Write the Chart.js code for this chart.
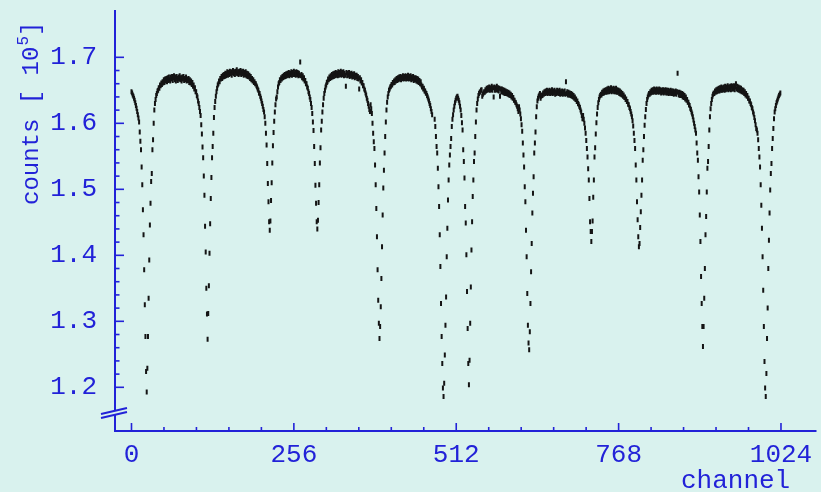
<!DOCTYPE html>
<html><head><meta charset="utf-8">
<script src="https://cdn.jsdelivr.net/npm/chart.js@4/dist/chart.umd.min.js"></script>
<style>html,body{margin:0;padding:0;background:#d9f2ee;}#wrap{width:821px;height:492px;}</style>
</head><body><div id="wrap"><canvas id="c" width="821" height="492"></canvas></div>
<script>
// Mossbauer spectrum, counts in units of 1e5, one value per channel
const xTickLabels = [0, 256, 512, 768, 1024];
const yTickLabels = [1.2, 1.3, 1.4, 1.5, 1.6, 1.7];
const xLabel = 'channel';
const yLabel = 'counts [ 10';
const yLabelExp = '5';

const dip1 = [1.648,1.646,1.643,1.641,1.638,1.635,1.631,1.627,1.623,1.618,1.613,1.608,1.602,1.587,1.573,1.560,1.534,1.507,1.469,1.431,1.378,1.325,1.277,1.224,1.193,1.229,1.277,1.335,1.393,1.446,1.479,1.512,1.524,1.560,1.575,1.600,1.620];
const arc1 = [1.630,1.636,1.642,1.645,1.649,1.650,1.654,1.653,1.658,1.657,1.661,1.659,1.663,1.661,1.666,1.662,1.667,1.664,1.668,1.663,1.669,1.665,1.670,1.666,1.664,1.670,1.667,1.671,1.665,1.669,1.672,1.666,1.670,1.664,1.671,1.668,1.665,1.670,1.667,1.672,1.666,1.669,1.664,1.670,1.667,1.671,1.665,1.668,1.666,1.670,1.664,1.667,1.665,1.668,1.662,1.666,1.661,1.664,1.659,1.662,1.656,1.658,1.652,1.654,1.648,1.648,1.642,1.640,1.634,1.630,1.624,1.618,1.612];
const dip2 = [1.598,1.584,1.564,1.548,1.520,1.491,1.444,1.405,1.350,1.311,1.273,1.312,1.354,1.403,1.448,1.486,1.518,1.548,1.565,1.585,1.609,1.624];
const arc2 = [1.633,1.641,1.648,1.653,1.658,1.660,1.664,1.663,1.668,1.667,1.671,1.668,1.673,1.670,1.674,1.671,1.676,1.672,1.675,1.678,1.673,1.677,1.674,1.679,1.675,1.678,1.673,1.677,1.680,1.675,1.678,1.674,1.679,1.676,1.681,1.675,1.678,1.674,1.679,1.676,1.680,1.674,1.678,1.675,1.679,1.673,1.677,1.674,1.678,1.672,1.676,1.671,1.675,1.670,1.673,1.668,1.671,1.666,1.668,1.664,1.666,1.662,1.663,1.660,1.660,1.657,1.655,1.652,1.650,1.646,1.645,1.641,1.638,1.634,1.630,1.626,1.621,1.617];
const dip3 = [1.610,1.600,1.585,1.567,1.539,1.509,1.481,1.451,1.438,1.452,1.483,1.510,1.540,1.566,1.586,1.603,1.617,1.628,1.637];
const arc3 = [1.640,1.648,1.655,1.660,1.662,1.666,1.665,1.669,1.667,1.671,1.669,1.673,1.670,1.674,1.671,1.675,1.672,1.676,1.673,1.677,1.672,1.676,1.674,1.678,1.673,1.677,1.674,1.679,1.674,1.677,1.673,1.678,1.674,1.677,1.672,1.676,1.673,1.693,1.672,1.674,1.669,1.672,1.667,1.669,1.664,1.665,1.660,1.660,1.655,1.653,1.648,1.645,1.640,1.636,1.630,1.624];
const dip4 = [1.615,1.602,1.589,1.565,1.539,1.506,1.479,1.451,1.440,1.453,1.480,1.507,1.540,1.563,1.590,1.603,1.617,1.628];
const arc4 = [1.638,1.645,1.650,1.655,1.658,1.662,1.663,1.667,1.666,1.670,1.668,1.672,1.669,1.674,1.670,1.675,1.671,1.676,1.672,1.677,1.673,1.676,1.672,1.678,1.673,1.677,1.674,1.679,1.673,1.677,1.674,1.678,1.672,1.676,1.673,1.656,1.677,1.672,1.676,1.673,1.677,1.671,1.675,1.672,1.676,1.670,1.674,1.671,1.675,1.669,1.673,1.670,1.673,1.668,1.671,1.667,1.652,1.669,1.664,1.666,1.661,1.662,1.657,1.657,1.652,1.650,1.646,1.643,1.638,1.635,1.630,1.626,1.621,1.618];
const dip5 = [1.628,1.622,1.615,1.600,1.585,1.572,1.562,1.537,1.507,1.471,1.428,1.378,1.332,1.297,1.274,1.292,1.322,1.365,1.413,1.461,1.502,1.529,1.555,1.580,1.602,1.620,1.632,1.640,1.645,1.650];
const arc5 = [1.652,1.655,1.656,1.659,1.658,1.662,1.661,1.664,1.662,1.666,1.664,1.668,1.665,1.669,1.666,1.670,1.667,1.671,1.666,1.670,1.668,1.672,1.667,1.671,1.668,1.672,1.667,1.671,1.668,1.673,1.667,1.671,1.668,1.672,1.666,1.670,1.667,1.671,1.665,1.669,1.666,1.669,1.664,1.668,1.663,1.667,1.662,1.665,1.660,1.663,1.658,1.655,1.656,1.652,1.653,1.649,1.649,1.646,1.645,1.642,1.640,1.637,1.634,1.630,1.627,1.622,1.618,1.613];
const dip67 = [1.606,1.595,1.580,1.565,1.555,1.532,1.504,1.474,1.431,1.383,1.327,1.277,1.236,1.199,1.186,1.206,1.249,1.294,1.337,1.398,1.441,1.484,1.514,1.537,1.552,1.565,1.577,1.595,1.606,1.613,1.620,1.626,1.631,1.635,1.638,1.640,1.641,1.638,1.635,1.631,1.626,1.620,1.612,1.601,1.590,1.560,1.542,1.517,1.474,1.449,1.401,1.345,1.289,1.236,1.204,1.241,1.297,1.352,1.408,1.451,1.489,1.514,1.542,1.555,1.580,1.602,1.620,1.630,1.637,1.642,1.645,1.647,1.648,1.650,1.651];
const arc6 = [1.641,1.644,1.646,1.648,1.647,1.651,1.649,1.653,1.650,1.654,1.651,1.655,1.650,1.654,1.651,1.656,1.650,1.654,1.640,1.655,1.650,1.654,1.651,1.656,1.650,1.654,1.649,1.653,1.641,1.652,1.648,1.652,1.647,1.651,1.646,1.650,1.645,1.649,1.645,1.648,1.644,1.647,1.643,1.646,1.642,1.644,1.640,1.642,1.638,1.639,1.635,1.635,1.632,1.631,1.628,1.626,1.622,1.618];
const dip8 = [1.625,1.620,1.614,1.607,1.598,1.588,1.570,1.552,1.534,1.504,1.481,1.438,1.398,1.342,1.294,1.267,1.257,1.284,1.327,1.375,1.418,1.464,1.494,1.519,1.555,1.570,1.587,1.610,1.625,1.634,1.638,1.641,1.643,1.645];
const arc7 = [1.638,1.641,1.643,1.642,1.646,1.644,1.648,1.645,1.649,1.646,1.650,1.645,1.649,1.646,1.650,1.645,1.649,1.646,1.651,1.645,1.649,1.646,1.650,1.644,1.648,1.645,1.650,1.646,1.649,1.645,1.650,1.644,1.648,1.645,1.649,1.644,1.648,1.645,1.649,1.644,1.663,1.645,1.648,1.643,1.647,1.643,1.646,1.642,1.645,1.641,1.644,1.640,1.642,1.638,1.640,1.636,1.637,1.633,1.634,1.630,1.629,1.626,1.624,1.620,1.617,1.612,1.607];
const dip9 = [1.612,1.606,1.600,1.593,1.585,1.574,1.562,1.549,1.531,1.514,1.486,1.451,1.436,1.421,1.436,1.452,1.488,1.514,1.549,1.563,1.584,1.601,1.614,1.624,1.631,1.636];
const arc8 = [1.640,1.642,1.644,1.643,1.647,1.645,1.649,1.646,1.650,1.647,1.651,1.647,1.652,1.648,1.653,1.648,1.652,1.649,1.654,1.648,1.652,1.649,1.653,1.648,1.652,1.648,1.653,1.647,1.651,1.647,1.650,1.645,1.649,1.644,1.647,1.643,1.645,1.641,1.643,1.639,1.640,1.636,1.637,1.633,1.633,1.629,1.628,1.624,1.622,1.618,1.614];
const dip10 = [1.610,1.604,1.596,1.585,1.574,1.562,1.537,1.514,1.481,1.454,1.428,1.413,1.418,1.442,1.466,1.491,1.514,1.544,1.560,1.580,1.597,1.610,1.621,1.630,1.636];
const arc9 = [1.640,1.643,1.645,1.644,1.648,1.646,1.650,1.647,1.651,1.647,1.652,1.648,1.651,1.647,1.652,1.648,1.651,1.647,1.652,1.648,1.651,1.646,1.650,1.647,1.651,1.646,1.650,1.647,1.651,1.646,1.650,1.646,1.650,1.645,1.649,1.646,1.650,1.645,1.649,1.645,1.649,1.644,1.648,1.645,1.649,1.644,1.648,1.676,1.647,1.643,1.647,1.642,1.646,1.642,1.645,1.640,1.644,1.639,1.642,1.637,1.640,1.635,1.636,1.632,1.632,1.628,1.627,1.623,1.621,1.617,1.614,1.610,1.605,1.600,1.595,1.590];
const dip11 = [1.585,1.570,1.555,1.544,1.519,1.496,1.461,1.421,1.368,1.327,1.292,1.262,1.292,1.335,1.380,1.431,1.459,1.496,1.532,1.542,1.565,1.590,1.610,1.622,1.630,1.636,1.641];
const arc10 = [1.644,1.646,1.645,1.649,1.647,1.651,1.648,1.652,1.649,1.653,1.649,1.654,1.650,1.655,1.650,1.654,1.651,1.655,1.650,1.656,1.651,1.655,1.652,1.657,1.651,1.655,1.652,1.656,1.651,1.657,1.652,1.656,1.652,1.657,1.651,1.655,1.660,1.652,1.656,1.651,1.655,1.650,1.654,1.649,1.653,1.648,1.651,1.647,1.650,1.645,1.648,1.643,1.645,1.641,1.642,1.638,1.638,1.634,1.634,1.630,1.628,1.624,1.622,1.617,1.614,1.609,1.604,1.598,1.592];
const dip12 = [1.590,1.585,1.575,1.562,1.549,1.534,1.507,1.476,1.441,1.398,1.347,1.292,1.239,1.199,1.186,1.221,1.274,1.320,1.380,1.423,1.464,1.499,1.524,1.539,1.562,1.577,1.592,1.607,1.617,1.622,1.627,1.631,1.634,1.637,1.640,1.642,1.644,1.646];

// first channel of each block
const blockStart = [0, 37, 110, 132, 210, 229, 285, 303, 377, 407, 478, 553, 611, 645, 712, 738, 789, 814, 890, 917, 986];
const blocks = [dip1, arc1, dip2, arc2, dip3, arc3, dip4, arc4, dip5, arc5, dip67, arc6, dip8, arc7, dip9, arc8, dip10, arc9, dip11, arc10, dip12];

const BLUE = '#2222d8';
const BG = '#d9f2ee';
const FONT = '"Liberation Mono", "DejaVu Sans Mono", monospace';

const points = [];
blocks.forEach((vals, b) => vals.forEach((v, i) => points.push({x: blockStart[b] + i, y: v})));

const framePlugin = {
  id: 'frame',
  beforeDraw(chart) {
    const c = chart.ctx;
    c.save(); c.fillStyle = BG; c.fillRect(0, 0, chart.width, chart.height); c.restore();
  },
  afterDraw(chart) {
    const c = chart.ctx, a = chart.chartArea, xs = chart.scales.x, ys = chart.scales.y;
    c.save();
    c.strokeStyle = BLUE; c.lineWidth = 2; c.lineCap = 'butt';
    const L = Math.round(a.left), B = Math.round(a.bottom);
    const seg = (x1, y1, x2, y2) => { c.beginPath(); c.moveTo(x1, y1); c.lineTo(x2, y2); c.stroke(); };
    // x axis
    seg(L - 1, B, a.right, B);
    // y axis with break
    seg(L, a.top, L, B - 20);
    seg(L, B - 16, L, B + 1);
    seg(L - 14, B - 17, L + 12, B - 23);
    seg(L - 14, B - 13, L + 12, B - 19);
    // y ticks (inward)
    c.lineWidth = 1.6;
    for (let k = 0; k <= 25; k++) {
      const v = 1.2 + k * 0.02;
      const py = ys.getPixelForValue(v);
      const major = k % 5 === 0;
      seg(L, py, L + (major ? 9 : 4.5), py);
    }
    // x ticks (inward)
    for (let k = 0; k <= 20; k++) {
      const v = k * 51.2;
      const px = xs.getPixelForValue(v);
      const major = k % 5 === 0;
      seg(px, B, px, B - (major ? 8 : 4));
    }
    // axis titles
    c.fillStyle = BLUE;
    c.font = '26px ' + FONT;
    c.textBaseline = 'alphabetic';
    c.textAlign = 'left';
    c.fillText(xLabel, 681, 488);
    c.translate(38, 205);
    c.rotate(-Math.PI / 2);
    c.font = '24px ' + FONT;
    c.fillText(yLabel, 0, 0);
    let w = c.measureText(yLabel).width;
    c.font = '16px ' + FONT;
    c.fillText(yLabelExp, w + 1, -10);
    w += c.measureText(yLabelExp).width + 1;
    c.font = '24px ' + FONT;
    c.fillText(']', w, 0);
    c.restore();
  }
};

new Chart(document.getElementById('c'), {
  type: 'scatter',
  data: { datasets: [{
    data: points,
    showLine: false,
    pointStyle: 'line',
    rotation: 90,
    pointRadius: 2.5,
    pointHoverRadius: 2.5,
    borderWidth: 2,
    borderColor: '#141414',
    backgroundColor: '#141414'
  }]},
  options: {
    responsive: false,
    animation: false,
    events: [],
    layout: { padding: { left: 0, top: 10, right: 2, bottom: 0 } },
    plugins: { legend: { display: false }, tooltip: { enabled: false } },
    scales: {
      x: {
        type: 'linear', min: -26, max: 1080,
        afterBuildTicks: s => { s.ticks = xTickLabels.map(v => ({ value: v })); },
        afterFit: s => { s.height = 61; s.paddingLeft = 0; s.paddingRight = 0; },
        grid: { display: false, drawTicks: false },
        border: { display: false },
        ticks: { color: BLUE, font: { family: FONT, size: 26 }, padding: 9, maxRotation: 0, autoSkip: false, callback: v => String(v) }
      },
      y: {
        type: 'linear', min: 1.1338, max: 1.7717,
        afterBuildTicks: s => { s.ticks = yTickLabels.map(v => ({ value: v })); },
        afterFit: s => { s.width = 115; s.paddingTop = 0; s.paddingBottom = 0; },
        grid: { display: false, drawTicks: false },
        border: { display: false },
        ticks: { color: BLUE, font: { family: FONT, size: 26 }, padding: 18, callback: v => v.toFixed(1) }
      }
    }
  },
  plugins: [framePlugin]
});
</script></body></html>
